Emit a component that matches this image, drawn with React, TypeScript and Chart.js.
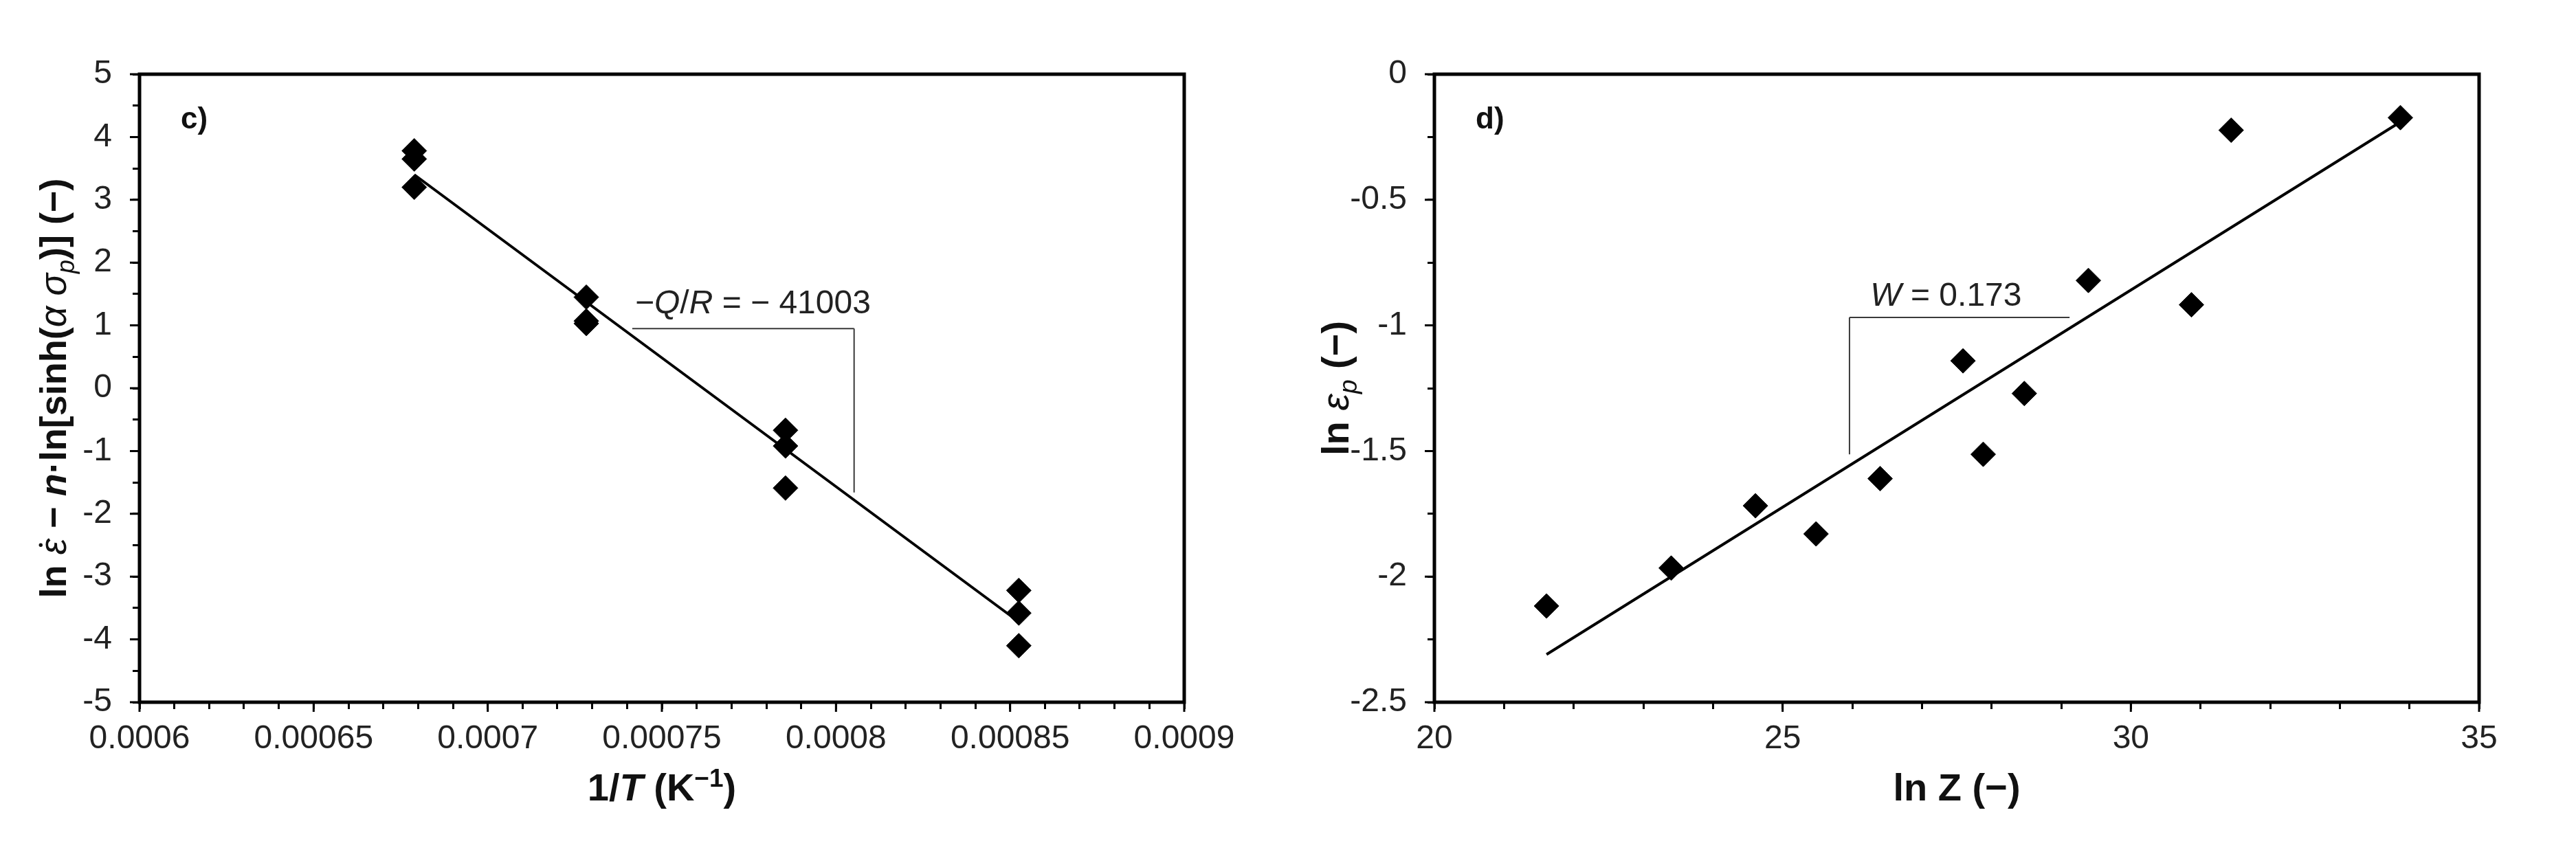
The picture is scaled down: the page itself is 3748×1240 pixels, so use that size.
import React, { useEffect, useRef } from 'react';
import { Chart, registerables } from 'chart.js';

Chart.register(...registerables);

const FONT = '"Liberation Sans", Arial, Helvetica, sans-serif';

// ---------- Panel c) ----------
const invT = [0.0006789, 0.0006789, 0.0006789, 0.0007283, 0.0007283, 0.0007283, 0.0007855, 0.0007855, 0.0007855, 0.0008525, 0.0008525, 0.0008525];
const lnTermC = [3.78, 3.65, 3.2, 1.45, 1.07, 1.03, -0.67, -0.92, -1.59, -3.22, -3.58, -4.1];
const fitXC = [0.0006789, 0.0008525];
const fitYC = [3.4, -3.72];
const xMajorC = [0.0006, 0.00065, 0.0007, 0.00075, 0.0008, 0.00085, 0.0009];
const xLabelsC = ['0.0006', '0.00065', '0.0007', '0.00075', '0.0008', '0.00085', '0.0009'];
const yMajorC = [5, 4, 3, 2, 1, 0, -1, -2, -3, -4, -5];
const yLabelsC = ['5', '4', '3', '2', '1', '0', '-1', '-2', '-3', '-4', '-5'];
const slopeXC = [0.0007415, 0.0008052];
const slopeYC = [0.95, -1.66];
const slopeTextPosC = [0.0007423, 1.19];

// ---------- Panel d) ----------
const lnZ = [21.61, 23.4, 24.61, 25.48, 26.4, 27.59, 27.88, 28.47, 29.39, 30.87, 31.44, 33.87];
const lnEp = [-2.117, -1.966, -1.718, -1.83, -1.61, -1.141, -1.513, -1.271, -0.821, -0.918, -0.223, -0.173];
const fitXD = [21.61, 33.87];
const fitYD = [-2.31, -0.19];
const xMajorD = [20, 25, 30, 35];
const xLabelsD = ['20', '25', '30', '35'];
const yMajorD = [0, -0.5, -1, -1.5, -2, -2.5];
const yLabelsD = ['0', '-0.5', '-1', '-1.5', '-2', '-2.5'];
const slopeXD = [25.96, 29.12];
const slopeYD = [-0.968, -1.513];
const slopeTextPosD = [26.26, -0.923];

type Seg = { t: string; b?: boolean; i?: boolean; sub?: boolean; sup?: boolean; dot?: boolean };

function segFont(s: Seg, size: number) {
  const sz = s.sub || s.sup ? Math.round(size * 0.66) : size;
  return `${s.i ? 'italic ' : ''}${s.b ? 'bold ' : ''}${sz}px ${FONT}`;
}

function drawRich(
  ctx: CanvasRenderingContext2D,
  segs: Seg[],
  size: number,
  x: number,
  y: number,
  align: 'left' | 'center',
  rotate: boolean,
  color: string
) {
  ctx.save();
  ctx.translate(x, y);
  if (rotate) ctx.rotate(-Math.PI / 2);
  ctx.textBaseline = 'alphabetic';
  ctx.textAlign = 'left';
  ctx.fillStyle = color;
  let w = 0;
  for (const s of segs) {
    ctx.font = segFont(s, size);
    w += ctx.measureText(s.t).width;
  }
  let cx = align === 'center' ? -w / 2 : 0;
  for (const s of segs) {
    ctx.font = segFont(s, size);
    const dy = s.sub ? size * 0.22 : s.sup ? -size * 0.36 : 0;
    const sw = ctx.measureText(s.t).width;
    ctx.fillText(s.t, cx, dy);
    if (s.dot) {
      ctx.beginPath();
      ctx.arc(cx + sw * 0.6, -size * 0.68, size * 0.05, 0, Math.PI * 2);
      ctx.fill();
    }
    cx += sw;
  }
  ctx.restore();
}

type Panel = {
  px: number[];
  py: number[];
  fx: number[];
  fy: number[];
  xMin: number;
  xMax: number;
  xStep: number;
  yMin: number;
  yMax: number;
  yStep: number;
  xMajor: number[];
  xLabels: string[];
  yMajor: number[];
  yLabels: string[];
  slopeX: number[];
  slopeY: number[];
  vertRight: boolean;
  slopeText: Seg[];
  slopeTextPos: number[];
  panelLabel: string;
  xTitle: Seg[];
  yTitle: Seg[];
  yTitleSize: number;
  yTitleGap: number;
  yAxisWidth: number;
  rightPad: number;
};

function labelFor(v: number, majors: number[], labels: string[], step: number) {
  const i = majors.findIndex((m) => Math.abs(m - v) < step * 1e-3);
  return i >= 0 ? labels[i] : '';
}

function minorValues(min: number, max: number, step: number) {
  const out: number[] = [];
  const n = Math.round((max - min) / step);
  for (let i = 0; i <= n; i++) out.push(min + i * step);
  return out;
}

function makeConfig(p: Panel): any {
  const decor = {
    id: 'decor',
    beforeDatasetsDraw(chart: any) {
      const { ctx, scales } = chart;
      const x = scales.x;
      const y = scales.y;
      const xa = x.getPixelForValue(p.slopeX[0]);
      const xb = x.getPixelForValue(p.slopeX[1]);
      const yt = y.getPixelForValue(p.slopeY[0]);
      const yb = y.getPixelForValue(p.slopeY[1]);
      const xv = p.vertRight ? xb : xa;
      ctx.save();
      ctx.strokeStyle = '#3a3a3a';
      ctx.lineWidth = 2;
      ctx.beginPath();
      ctx.moveTo(xa, yt);
      ctx.lineTo(xb, yt);
      ctx.moveTo(xv, yt);
      ctx.lineTo(xv, yb);
      ctx.stroke();
      ctx.restore();
    },
    afterDraw(chart: any) {
      const { ctx, chartArea: a, scales } = chart;
      const x = scales.x;
      const y = scales.y;
      ctx.save();
      ctx.strokeStyle = '#000';
      ctx.lineWidth = 3;
      ctx.beginPath();
      p.xMajor.forEach((v) => {
        const px = x.getPixelForValue(v);
        ctx.moveTo(px, a.bottom);
        ctx.lineTo(px, a.bottom + 14);
      });
      p.yMajor.forEach((v) => {
        const py = y.getPixelForValue(v);
        ctx.moveTo(a.left, py);
        ctx.lineTo(a.left - 14, py);
      });
      ctx.stroke();
      ctx.lineWidth = 5;
      ctx.strokeRect(a.left, a.top, a.right - a.left, a.bottom - a.top);
      ctx.restore();

      drawRich(
        ctx,
        p.slopeText,
        48,
        x.getPixelForValue(p.slopeTextPos[0]),
        y.getPixelForValue(p.slopeTextPos[1]),
        'left',
        false,
        '#222'
      );
      drawRich(ctx, [{ t: p.panelLabel, b: true }], 44, a.left + 60, a.top + 79, 'left', false, '#111');
      drawRich(ctx, p.xTitle, 56, (a.left + a.right) / 2, a.bottom + 143, 'center', false, '#111');
      drawRich(ctx, p.yTitle, p.yTitleSize, a.left - p.yTitleGap, (a.top + a.bottom) / 2, 'center', true, '#111');
    },
  };

  const xMinor = minorValues(p.xMin, p.xMax, p.xStep);
  const yMinor = minorValues(p.yMin, p.yMax, p.yStep);

  return {
    type: 'scatter',
    data: {
      datasets: [
        {
          data: p.px.map((v, i) => ({ x: v, y: p.py[i] })),
          pointStyle: 'rectRot',
          pointRadius: 18,
          pointBackgroundColor: '#000',
          pointBorderColor: '#000',
          pointBorderWidth: 1,
          showLine: false,
        },
        {
          data: p.fx.map((v, i) => ({ x: v, y: p.fy[i] })),
          showLine: true,
          pointRadius: 0,
          borderColor: '#000',
          borderWidth: 4,
          fill: false,
        },
      ],
    },
    options: {
      animation: false,
      responsive: false,
      devicePixelRatio: 1,
      events: [],
      layout: { padding: { left: 0, top: 108, right: p.rightPad, bottom: 0 } },
      plugins: { legend: { display: false }, tooltip: { enabled: false } },
      scales: {
        x: {
          type: 'linear',
          position: 'bottom',
          min: p.xMin,
          max: p.xMax,
          afterBuildTicks: (s: any) => {
            s.ticks = xMinor.map((v) => ({ value: v }));
          },
          afterFit: (s: any) => {
            s.height = 218;
          },
          border: { display: false },
          grid: {
            drawOnChartArea: false,
            drawTicks: true,
            tickLength: 10,
            tickWidth: 3,
            lineWidth: 3,
            color: '#000',
            tickColor: '#000',
          },
          ticks: {
            autoSkip: false,
            maxRotation: 0,
            minRotation: 0,
            padding: 15,
            color: '#222',
            font: { family: FONT, size: 48 },
            callback: (v: any) => labelFor(Number(v), p.xMajor, p.xLabels, p.xStep),
          },
        },
        y: {
          type: 'linear',
          position: 'left',
          min: p.yMin,
          max: p.yMax,
          afterBuildTicks: (s: any) => {
            s.ticks = yMinor.map((v) => ({ value: v }));
          },
          afterFit: (s: any) => {
            s.width = p.yAxisWidth;
          },
          border: { display: false },
          grid: {
            drawOnChartArea: false,
            drawTicks: true,
            tickLength: 10,
            tickWidth: 3,
            lineWidth: 3,
            color: '#000',
            tickColor: '#000',
          },
          ticks: {
            autoSkip: false,
            padding: 30,
            color: '#222',
            font: { family: FONT, size: 48 },
            callback: (v: any) => labelFor(Number(v), p.yMajor, p.yLabels, p.yStep),
          },
        },
      },
    },
    plugins: [decor],
  };
}

const panelC: Panel = {
  px: invT,
  py: lnTermC,
  fx: fitXC,
  fy: fitYC,
  xMin: 0.0006,
  xMax: 0.0009,
  xStep: 0.00001,
  yMin: -5,
  yMax: 5,
  yStep: 0.5,
  xMajor: xMajorC,
  xLabels: xLabelsC,
  yMajor: yMajorC,
  yLabels: yLabelsC,
  slopeX: slopeXC,
  slopeY: slopeYC,
  vertRight: true,
  slopeText: [
    { t: '−' },
    { t: 'Q', i: true },
    { t: '/' },
    { t: 'R', i: true },
    { t: ' = − 41003' },
  ],
  slopeTextPos: slopeTextPosC,
  panelLabel: 'c)',
  xTitle: [{ t: '1/', b: true }, { t: 'T', b: true, i: true }, { t: ' (K', b: true }, { t: '−1', b: true, sup: true }, { t: ')', b: true }],
  yTitle: [
    { t: 'ln ', b: true },
    { t: 'ε', i: true, dot: true },
    { t: ' − ', b: true },
    { t: 'n', b: true, i: true },
    { t: '·ln[sinh(', b: true },
    { t: 'α σ', i: true },
    { t: 'p', i: true, sub: true },
    { t: ')] (−)', b: true },
  ],
  yTitleSize: 54,
  yTitleGap: 107,
  yAxisWidth: 203,
  rightPad: 151,
};

const panelD: Panel = {
  px: lnZ,
  py: lnEp,
  fx: fitXD,
  fy: fitYD,
  xMin: 20,
  xMax: 35,
  xStep: 1,
  yMin: -2.5,
  yMax: 0,
  yStep: 0.25,
  xMajor: xMajorD,
  xLabels: xLabelsD,
  yMajor: yMajorD,
  yLabels: yLabelsD,
  slopeX: slopeXD,
  slopeY: slopeYD,
  vertRight: false,
  slopeText: [{ t: 'W', i: true }, { t: ' = 0.173' }],
  slopeTextPos: slopeTextPosD,
  panelLabel: 'd)',
  xTitle: [{ t: 'ln Z (−)', b: true }],
  yTitle: [
    { t: 'ln ', b: true },
    { t: 'ε', i: true },
    { t: 'p', i: true, sub: true },
    { t: ' (−)', b: true },
  ],
  yTitleSize: 56,
  yTitleGap: 125,
  yAxisWidth: 213,
  rightPad: 141,
};

export default function App() {
  const ref1 = useRef<HTMLCanvasElement>(null);
  const ref2 = useRef<HTMLCanvasElement>(null);

  useEffect(() => {
    const c1 = new Chart(ref1.current as HTMLCanvasElement, makeConfig(panelC));
    const c2 = new Chart(ref2.current as HTMLCanvasElement, makeConfig(panelD));
    return () => {
      c1.destroy();
      c2.destroy();
    };
  }, []);

  return (
    <div
      style={{
        position: 'fixed',
        left: 0,
        top: 0,
        width: 3748,
        height: 1240,
        background: '#fff',
        overflow: 'hidden',
      }}
    >
      <canvas
        ref={ref1}
        width={1874}
        height={1240}
        style={{ position: 'absolute', left: 0, top: 0, width: 1874, height: 1240 }}
      />
      <canvas
        ref={ref2}
        width={1874}
        height={1240}
        style={{ position: 'absolute', left: 1874, top: 0, width: 1874, height: 1240 }}
      />
    </div>
  );
}
